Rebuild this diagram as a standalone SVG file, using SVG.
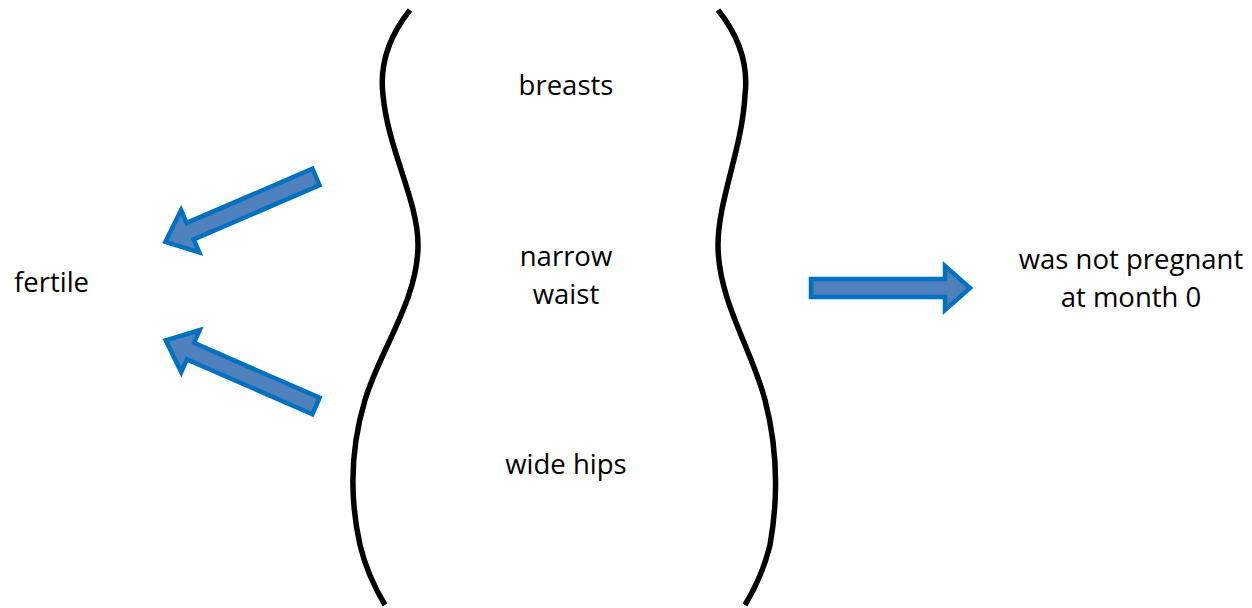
<svg xmlns="http://www.w3.org/2000/svg" width="1252" height="608" viewBox="0 0 1252 608">
<style>
.t{font-family:"Open Sans","Liberation Sans",sans-serif;font-size:27.5px;fill:#000}
.c{text-anchor:middle}
.body{fill:none;stroke:#000;stroke-width:5.5;stroke-linecap:butt}
.arr{fill:#4F81BD;stroke:#0070C0;stroke-width:4.5;stroke-linejoin:miter}
</style>
<rect width="1252" height="608" fill="#fff"/>
<g id="silhouette">
<path class="body" d="M410,10 C386,40 380,70 383,95 C388,150 418,200 418,245 C418,300 380,350 365,400 C350,450 350,500 360,545 C366,570 376,590 385,605"/>
<path class="body" d="M718,10 C742,40 748,70 745,95 C742,150 718,200 718,245 C718,300 752,350 765,400 C778,450 778,500 770,545 C764,570 754,590 745,605"/>
</g>
<g id="labels-body">
<text class="t c" x="566" y="95">breasts</text>
<text class="t c" x="566" y="266">narrow</text>
<text class="t c" x="566" y="304">waist</text>
<text class="t c" x="566" y="474">wide hips</text>
</g>
<g id="fertile"><text class="t" x="14" y="292">fertile</text></g>
<g id="not-pregnant">
<text class="t c" x="1131" y="269">was not pregnant</text>
<text class="t c" x="1131" y="307">at month 0</text>
</g>
<g id="connectors">
<path class="arr" transform="translate(316,177) rotate(156.7)" d="M0,-9 L137,-9 L137,-23 L164,0 L137,23 L137,9 L0,9 Z"/>
<path class="arr" transform="translate(316,406) rotate(203.6)" d="M0,-9 L137,-9 L137,-23 L164,0 L137,23 L137,9 L0,9 Z"/>
<path class="arr" transform="translate(811,288)" d="M0,-9 L134,-9 L134,-22 L159,0 L134,22 L134,9 L0,9 Z"/>
</g>
</svg>
